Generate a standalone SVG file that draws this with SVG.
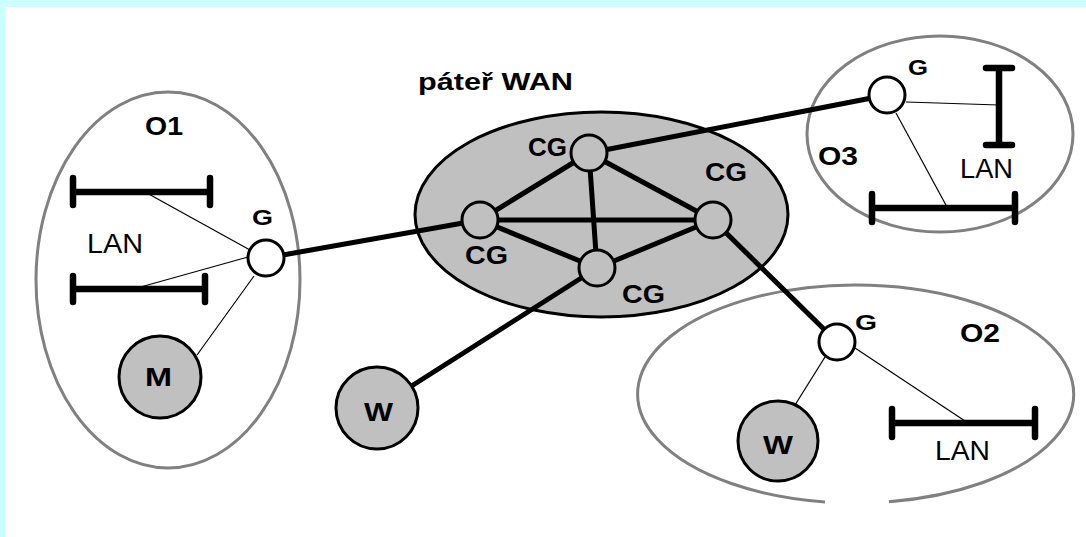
<svg xmlns="http://www.w3.org/2000/svg" width="1086" height="537" viewBox="0 0 1086 537">
<style>
.area{fill:none;stroke:#808080;stroke-width:3}
.wan{fill:#c0c0c0;stroke:#000;stroke-width:3}
.thick{stroke:#000;stroke-width:5;stroke-linecap:round;fill:none}
.thin{stroke:#000;stroke-width:1.2;fill:none}
.bar{stroke:#000;stroke-width:6.5;stroke-linecap:round;fill:none}
.g{fill:#fff;stroke:#000;stroke-width:3}
.cg{fill:#c0c0c0;stroke:#000;stroke-width:3}
.host{fill:#c0c0c0;stroke:#000;stroke-width:3}
.b{font-family:"Liberation Sans",Arial,sans-serif;font-weight:bold;fill:#000}
.r{font-family:"Liberation Sans",Arial,sans-serif;fill:#000}
</style>
<rect x="0" y="0" width="1086" height="537" fill="#fff"/>
<rect x="0" y="0" width="1086" height="7" fill="#ccffff"/>
<rect x="0" y="0" width="5" height="537" fill="#ccffff"/>

<g id="areas">
<ellipse id="O1-area" class="area" cx="168" cy="280" rx="132" ry="188"/>
<ellipse id="O3-area" class="area" cx="940" cy="134" rx="133" ry="98"/>
<path id="O2-area" class="area" d="M 889 501.7 A 218 109 0 1 0 825 501.9"/>
<ellipse id="wan-area" class="wan" cx="601.5" cy="214.5" rx="186.5" ry="102.5"/>
<text class="b" x="418" y="90" font-size="24" textLength="155" lengthAdjust="spacingAndGlyphs">páteř WAN</text>
</g>

<g id="connectors">
<line class="thick" x1="266" y1="258" x2="480" y2="220"/>
<line class="thick" x1="887" y1="95" x2="589" y2="153"/>
<line class="thick" x1="713" y1="220" x2="837" y2="342"/>
<line class="thick" x1="377" y1="408" x2="597" y2="268"/>
<line class="thick" x1="589" y1="153" x2="480" y2="220"/>
<line class="thick" x1="589" y1="153" x2="597" y2="268"/>
<line class="thick" x1="589" y1="153" x2="713" y2="220"/>
<line class="thick" x1="480" y1="220" x2="713" y2="220"/>
<line class="thick" x1="480" y1="220" x2="597" y2="268"/>
<line class="thick" x1="597" y1="268" x2="713" y2="220"/>
<line class="thin" x1="145" y1="192" x2="250" y2="250"/>
<line class="thin" x1="137" y1="288" x2="248" y2="257"/>
<line class="thin" x1="197" y1="355" x2="254" y2="276"/>
<line class="thin" x1="906" y1="102" x2="999" y2="105"/>
<line class="thin" x1="896" y1="113" x2="947" y2="207"/>
<line class="thin" x1="795" y1="405" x2="825" y2="357"/>
<line class="thin" x1="855" y1="348" x2="965" y2="421"/>
</g>

<g id="O1">
<text class="b" x="145" y="135" font-size="25" textLength="38" lengthAdjust="spacingAndGlyphs">O1</text>
<path class="bar" d="M73 192 H210 M73 178 V205 M210 178 V205"/>
<path class="bar" d="M73 289 H205 M73 276 V302 M205 276 V302"/>
<text class="r" x="87" y="253" font-size="28" textLength="56" lengthAdjust="spacingAndGlyphs">LAN</text>
</g>
<g id="O1-G">
<circle class="g" cx="266" cy="258" r="18"/>
<text class="b" x="252" y="225" font-size="22" textLength="21" lengthAdjust="spacingAndGlyphs">G</text>
</g>
<g id="O1-M">
<circle class="host" cx="160" cy="377" r="41"/>
<text class="b" x="145" y="386" font-size="25" textLength="27" lengthAdjust="spacingAndGlyphs">M</text>
</g>

<g id="CG-top">
<circle class="cg" cx="589" cy="153" r="18"/>
<text class="b" x="528" y="156" font-size="26" textLength="39" lengthAdjust="spacingAndGlyphs">CG</text>
</g>
<g id="CG-left">
<circle class="cg" cx="480" cy="220" r="18"/>
<text class="b" x="465" y="264" font-size="26" textLength="43" lengthAdjust="spacingAndGlyphs">CG</text>
</g>
<g id="CG-right">
<circle class="cg" cx="713" cy="220" r="18"/>
<text class="b" x="705" y="181" font-size="26" textLength="42" lengthAdjust="spacingAndGlyphs">CG</text>
</g>
<g id="CG-bottom">
<circle class="cg" cx="597" cy="268" r="18"/>
<text class="b" x="622" y="303" font-size="26" textLength="43" lengthAdjust="spacingAndGlyphs">CG</text>
</g>

<g id="W-mid">
<circle class="host" cx="377" cy="408" r="41"/>
<text class="b" x="364" y="421" font-size="26" textLength="29" lengthAdjust="spacingAndGlyphs">W</text>
</g>

<g id="O3">
<text class="b" x="818" y="165" font-size="25" textLength="40" lengthAdjust="spacingAndGlyphs">O3</text>
<path class="bar" d="M999 68 V145 M986 68 H1012 M986 145 H1012"/>
<path class="bar" d="M872 208 H1015 M872 194 V222 M1015 194 V222"/>
<text class="r" x="960" y="178" font-size="28" textLength="53" lengthAdjust="spacingAndGlyphs">LAN</text>
</g>
<g id="O3-G">
<circle class="g" cx="887" cy="95" r="18"/>
<text class="b" x="908" y="75" font-size="22" textLength="20" lengthAdjust="spacingAndGlyphs">G</text>
</g>

<g id="O2">
<text class="b" x="960" y="342" font-size="25" textLength="40" lengthAdjust="spacingAndGlyphs">O2</text>
<path class="bar" d="M892 423 H1035 M892 409 V437 M1035 409 V437"/>
<text class="r" x="935" y="460" font-size="28" textLength="55" lengthAdjust="spacingAndGlyphs">LAN</text>
</g>
<g id="O2-G">
<circle class="g" cx="837" cy="342" r="18"/>
<text class="b" x="855" y="330" font-size="22" textLength="22" lengthAdjust="spacingAndGlyphs">G</text>
</g>
<g id="O2-W">
<circle class="host" cx="778" cy="441" r="40"/>
<text class="b" x="763" y="454" font-size="26" textLength="30" lengthAdjust="spacingAndGlyphs">W</text>
</g>
</svg>
